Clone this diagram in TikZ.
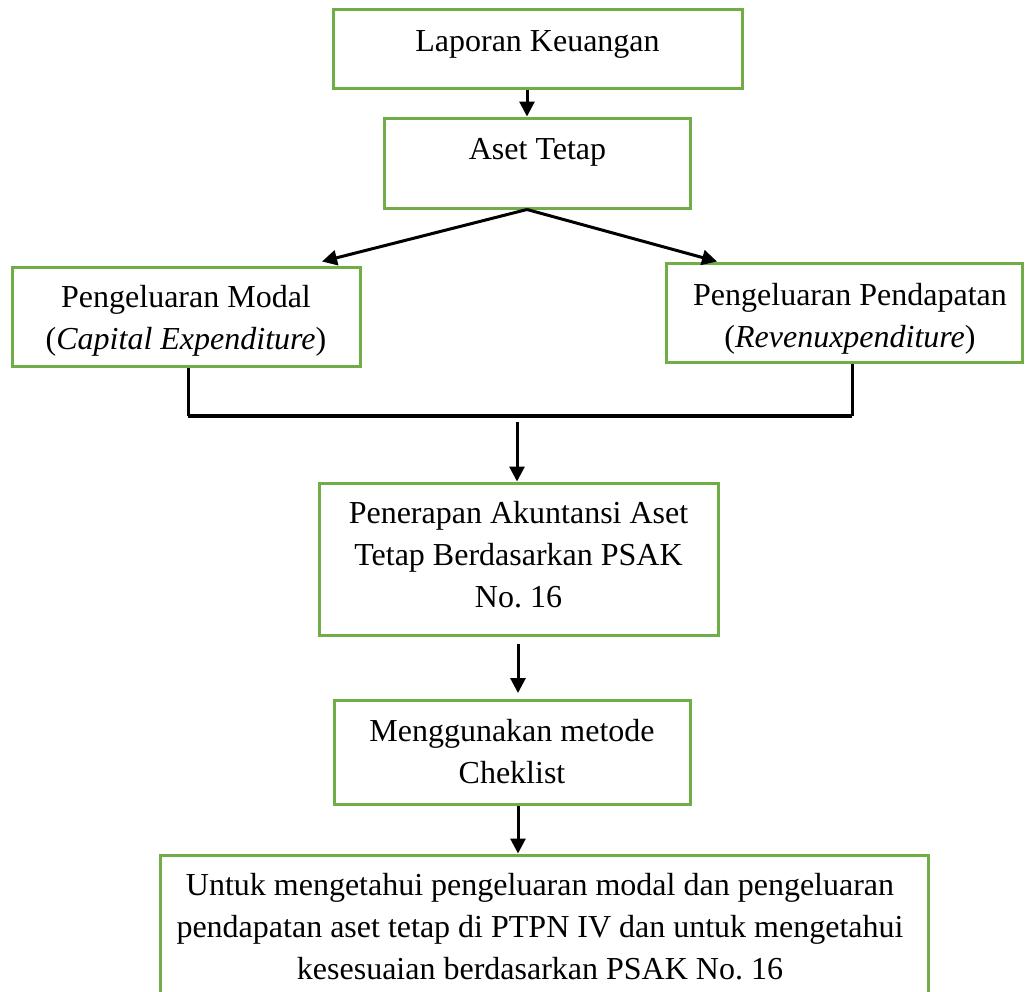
\documentclass[tikz,border=0pt]{standalone}
\usepackage{fontspec}
\setmainfont{Liberation Serif}
\frenchspacing
\usetikzlibrary{fit,arrows.meta}
\definecolor{boxgreen}{HTML}{70AD47}
\begin{document}
\begin{tikzpicture}[x=0.5pt,y=-0.5pt,
  gbox/.style={draw=boxgreen,line width=1.5pt,inner sep=0pt},
  txt/.style={anchor=base,align=center,inner sep=0pt,font=\fontsize{16}{21}\selectfont},
  arr/.style={line width=1.5pt,-{Triangle[length=7.5pt,width=7.5pt]}},
  conn/.style={line width=1.5pt}]
\clip (0,0) rectangle (1025,992);
% boxes
\node[gbox,fit={(333,9)(742,88)}] (lap) {};
\node[gbox,fit={(384,118)(690,208)}] (aset) {};
\node[gbox,fit={(12,267)(360,366)}] (modal) {};
\node[gbox,fit={(666,263)(1022,362)}] (pend) {};
\node[gbox,fit={(319,483)(718,635)}] (pen) {};
\node[gbox,fit={(334,700)(690,804)}] (men) {};
\node[gbox,fit={(160,855)(928,1010)}] (akhir) {};
% texts (anchor base = baseline of the last line)
\node[txt] (laptxt) at (537.5,51) {Laporan Keuangan};
\node[txt] (asettxt) at (537.5,159) {Aset Tetap};
\node[txt] (modaltxt) at (186,349) {Pengeluaran Modal\\(\textit{Capital Expenditure})};
\node[txt] (pendtxt) at (850,347) {Pengeluaran Pendapatan\\(\textit{Revenuxpenditure})};
\node[txt] (pentxt) at (518.5,607) {Penerapan Akuntansi Aset\\Tetap Berdasarkan PSAK\\No. 16};
\node[txt] (mentxt) at (512,783) {Menggunakan metode\\Cheklist};
\node[txt] (akhirtxt) at (540,979) {Untuk mengetahui pengeluaran modal dan pengeluaran\\pendapatan aset tetap di PTPN IV dan untuk mengetahui\\kesesuaian berdasarkan PSAK No. 16};
% helper coordinates
\coordinate (ax) at (527,0);
\coordinate (tl) at (322,0);
\coordinate (tr) at (717,0);
\coordinate (bl) at (188,416);
\coordinate (br) at (852,416);
\coordinate (bm) at (517,422);
\coordinate (m1) at (518,644);
\coordinate (m1e) at (518,693);
\coordinate (m2) at (518,0);
% connectors
\draw[arr] (lap.south -| ax) -- (aset.north -| ax);
\coordinate (apex) at (aset.south -| ax);
\draw[arr] (apex) -- ([yshift=2pt]modal.north -| tl);
\draw[arr] (apex) -- (pend.north -| tr);
\draw[conn] (modal.south -| bl) -- (bl);
\draw[conn] (pend.south -| br) -- (br);
\draw[line width=2pt] (bl) -- (br);
\draw[arr] (bm) -- (pen.north -| bm);
\draw[arr] (m1) -- (m1e);
\draw[arr] (men.south -| m2) -- (akhir.north -| m2);
\end{tikzpicture}
\end{document}
